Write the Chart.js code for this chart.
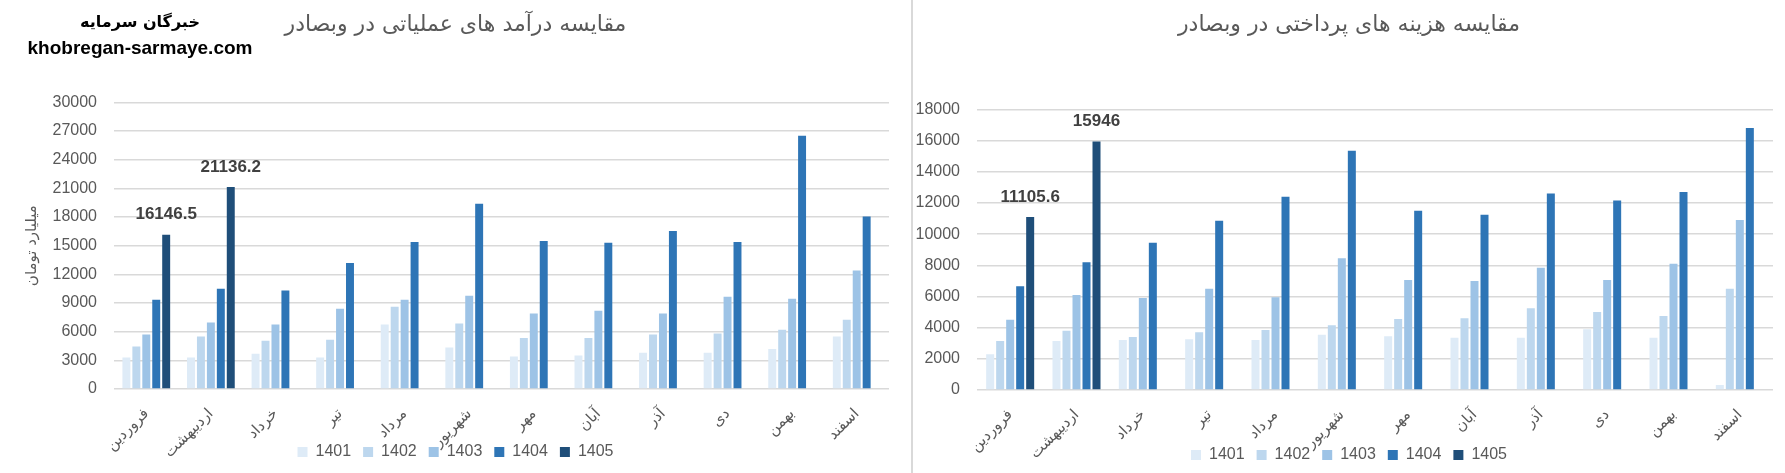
<!DOCTYPE html>
<html>
<head>
<meta charset="utf-8">
<script src="https://cdn.jsdelivr.net/npm/chart.js@4.4.1/dist/chart.umd.min.js"></script>
<style>
  body { margin: 0; background: #fff; width: 1785px; height: 473px; overflow: hidden; position: relative; }
  canvas { position: absolute; top: 0; }
  #left-chart { left: 0; }
  #right-chart { left: 913px; }
  .divider { position: absolute; left: 911px; top: 0; width: 2px; height: 473px; background: #d9d9d9; }
  .brand { position: absolute; left: 0; width: 280px; text-align: center; color: #000; font-weight: bold; }
  .brand-fa { top: 12px; font: bold 16px 'DejaVu Sans', sans-serif; }
  .brand-en { top: 37px; font: bold 19px 'Liberation Sans', sans-serif; }
</style>
</head>
<body>
<canvas id="left-chart" width="911" height="473"></canvas>
<div class="divider"></div>
<canvas id="right-chart" width="872" height="473"></canvas>
<div class="brand brand-fa">خبرگان سرمایه</div>
<div class="brand brand-en">khobregan-sarmaye.com</div>
<script>
const months = ['فروردین', 'اردیبهشت', 'خرداد', 'تیر', 'مرداد', 'شهریور', 'مهر', 'آبان', 'آذر', 'دی', 'بهمن', 'اسفند'];
const years = ['1401', '1402', '1403', '1404', '1405'];

// درآمد عملیاتی (میلیارد تومان)
const revenue1401 = [3300, 3300, 3700, 3300, 6750, 4350, 3400, 3500, 3800, 3800, 4200, 5500];
const revenue1402 = [4450, 5500, 5050, 5150, 8600, 6850, 5350, 5350, 5700, 5800, 6200, 7250];
const revenue1403 = [5700, 6950, 6750, 8400, 9350, 9750, 7900, 8200, 7900, 9650, 9450, 12400];
const revenue1404 = [9350, 10500, 10300, 13200, 15400, 19400, 15500, 15300, 16550, 15400, 26500, 18050];
const revenue1405 = [16146.5, 21136.2, null, null, null, null, null, null, null, null, null, null];

// هزینه های پرداختی
const cost1401 = [2300, 3150, 3200, 3250, 3200, 3550, 3450, 3350, 3350, 3900, 3350, 320];
const cost1402 = [3150, 3800, 3400, 3700, 3850, 4150, 4550, 4600, 5250, 5000, 4750, 6500];
const cost1403 = [4500, 6100, 5900, 6500, 5950, 8450, 7050, 7000, 7850, 7050, 8100, 10900];
const cost1404 = [6650, 8200, 9450, 10850, 12400, 15350, 11500, 11250, 12600, 12150, 12700, 16800];
const cost1405 = [11105.6, 15946, null, null, null, null, null, null, null, null, null, null];

const revenueTicks = [0, 3000, 6000, 9000, 12000, 15000, 18000, 21000, 24000, 27000, 30000];
const costTicks = [0, 2000, 4000, 6000, 8000, 10000, 12000, 14000, 16000, 18000];

const colors = ['#deebf7', '#bdd7ee', '#9dc3e6', '#2e75b6', '#1f4e79'];

Chart.defaults.font.family = "'Liberation Sans', 'DejaVu Sans', sans-serif";
Chart.defaults.color = '#595959';

// value labels above the 1405 bars
const lastYearLabels = {
  id: 'lastYearLabels',
  afterDatasetsDraw(chart) {
    const ctx = chart.ctx;
    const meta = chart.getDatasetMeta(4);
    const values = chart.data.datasets[4].data;
    ctx.save();
    ctx.font = "bold 17px 'Liberation Sans', sans-serif";
    ctx.fillStyle = '#404040';
    ctx.textAlign = 'center';
    ctx.textBaseline = 'middle';
    meta.data.forEach(function(bar, i) {
      if (values[i] === null) return;
      ctx.fillText(String(values[i]), bar.x, bar.y - 20);
    });
    ctx.restore();
  }
};

function makeDatasets(series) {
  return series.map(function(values, i) {
    return {
      label: years[i],
      data: values,
      backgroundColor: colors[i],
      borderWidth: 0
    };
  });
}

function makeChart(canvasId, opts) {
  const ticks = opts.ticks;
  const config = {
    type: 'bar',
    data: {
      labels: months,
      datasets: makeDatasets(opts.series)
    },
    options: {
      responsive: false,
      animation: false,
      categoryPercentage: opts.categoryPercentage,
      barPercentage: 0.8,
      layout: { padding: { left: 0, right: 0, top: 0, bottom: opts.bottomPad } },
      plugins: {
        title: {
          display: true,
          text: opts.title,
          color: '#595959',
          font: { family: "'DejaVu Sans', sans-serif", size: 22, weight: 'normal' },
          padding: { top: 12, bottom: opts.titleGap }
        },
        legend: {
          position: 'bottom',
          labels: {
            boxWidth: 10,
            boxHeight: 10,
            padding: 12,
            color: '#595959',
            font: { size: 16 }
          }
        },
        tooltip: { enabled: false }
      },
      scales: {
        x: {
          grid: { display: false },
          border: { display: false },
          ticks: {
            minRotation: 45,
            maxRotation: 45,
            padding: 8,
            color: '#595959',
            font: { size: 15 }
          },
          afterFit: function(scale) {
            scale.height = opts.xHeight;
            // month names run down past the axis box, as in the original; don't clip them
            scale._computeLabelArea = function() { return null; };
          }
        },
        y: {
          min: ticks[0],
          max: ticks[ticks.length - 1],
          afterBuildTicks: function(scale) {
            scale.ticks = ticks.map(function(v) { return { value: v }; });
          },
          grid: { color: '#d9d9d9', lineWidth: 1.5, drawTicks: false },
          border: { display: false },
          ticks: {
            padding: 17,
            color: '#595959',
            font: { size: 16 },
            callback: function(v) { return String(v); }
          },
          title: opts.yTitle ? {
            display: true,
            text: opts.yTitle,
            color: '#595959',
            font: { family: "'DejaVu Sans', sans-serif", size: 15 },
            padding: { top: 23, bottom: 0 }
          } : { display: false },
          afterFit: function(scale) { scale.width = opts.yWidth; }
        },
        spacer: {
          position: 'right',
          grid: { display: false },
          border: { display: false },
          ticks: { display: false },
          afterFit: function(scale) { scale.width = opts.rightGap; }
        }
      }
    },
    plugins: [lastYearLabels]
  };
  return new Chart(document.getElementById(canvasId), config);
}

var revenueChart = makeChart('left-chart', {
  title: 'مقایسه درآمد های عملیاتی در وبصادر',
  yTitle: 'میلیارد تومان',
  series: [revenue1401, revenue1402, revenue1403, revenue1404, revenue1405],
  ticks: revenueTicks,
  categoryPercentage: 0.77,
  yWidth: 114,
  rightGap: 22,
  titleGap: 64,
  xHeight: 43,
  bottomPad: 3
});

var costChart = makeChart('right-chart', {
  title: 'مقایسه هزینه های پرداختی در وبصادر',
  yTitle: null,
  series: [cost1401, cost1402, cost1403, cost1404, cost1405],
  ticks: costTicks,
  categoryPercentage: 0.754,
  yWidth: 64,
  rightGap: 12,
  titleGap: 71,
  xHeight: 45,
  bottomPad: 0
});
</script>
</body>
</html>
